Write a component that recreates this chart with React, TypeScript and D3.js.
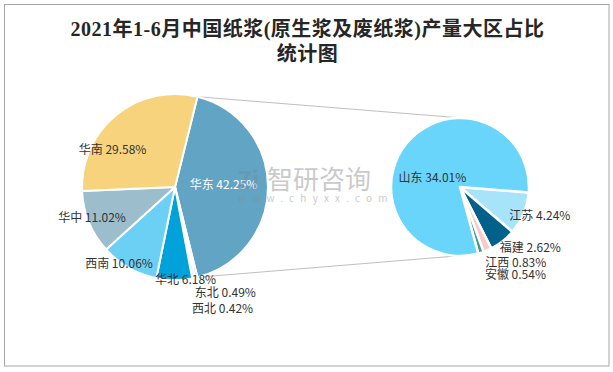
import { useMemo } from "react";
import * as d3 from "d3";

// main pie: regions (华东 is broken out into the second pie)
const regions = ["华东", "西北", "东北", "华北", "西南", "华中", "华南"];
const regionShare = [42.25, 0.42, 0.49, 6.18, 10.06, 11.02, 29.58];
const regionColors = ["#62A4C4", "#8FB4D0", "#D6E4EF", "#00A2D9", "#6CD0F5", "#9CBDCC", "#F6D37C"];

// second pie: provinces inside 华东
const provinces = ["江苏", "福建", "江西", "安徽", "山东"];
const provinceShare = [4.24, 2.62, 0.83, 0.54, 34.01];
const provinceColors = ["#A7E3F9", "#00628A", "#F8CACB", "#3F9B8F", "#6AD5FB"];

const titleLines = ["2021年1-6月中国纸浆(原生浆及废纸浆)产量大区占比", "统计图"];

const W = 613;
const H = 372;
const FONT = '"Noto Sans CJK SC", "Noto Sans", sans-serif';

// label nudges from each slice centroid
const regionLabelOffset: Record<string, [number, number]> = {
  华东: [2, -4],
  西北: [37, 75],
  东北: [41, 59],
  华北: [11, 45],
  西南: [-33, 35],
  华中: [-40, 12],
  华南: [-33, -3],
};
const provinceLabelOffset: Record<string, [number, number]> = {
  江苏: [48, 14],
  福建: [49, 32],
  江西: [42, 43],
  安徽: [45, 54],
  山东: [-1, 11],
};

const deg = (a: number) => (a * Math.PI) / 180;

export default function App() {
  const left = { cx: 175, cy: 187, r: 93 };
  const right = { cx: 460, cy: 187, r: 69 };

  const { leftArcs, rightArcs } = useMemo(() => {
    const total = d3.sum(regionShare);
    const eastSweep = (regionShare[0] / total) * 360;
    const start = deg(90 - eastSweep / 2);
    const leftArcs = d3
      .pie<number>()
      .sort(null)
      .value((d) => d)
      .startAngle(start)
      .endAngle(start + Math.PI * 2)(regionShare);
    const rs = deg(94.5);
    const rightArcs = d3
      .pie<number>()
      .sort(null)
      .value((d) => d)
      .startAngle(rs)
      .endAngle(rs + Math.PI * 2)(provinceShare);
    return { leftArcs, rightArcs };
  }, []);

  const arcL = d3.arc<d3.PieArcDatum<number>>().innerRadius(0).outerRadius(left.r);
  const arcR = d3.arc<d3.PieArcDatum<number>>().innerRadius(0).outerRadius(right.r);

  // connector lines from the edges of the 华东 slice to the second pie
  const east = leftArcs[0];
  const p0 = [left.cx + left.r * Math.sin(east.startAngle), left.cy - left.r * Math.cos(east.startAngle)];
  const p1 = [left.cx + left.r * Math.sin(east.endAngle), left.cy - left.r * Math.cos(east.endAngle)];
  const q0 = [right.cx + 2, right.cy - right.r];
  const q1 = [right.cx - 4, right.cy + right.r];

  return (
    <svg
      width={W}
      height={H}
      style={{ position: "absolute", left: 0, top: 0, background: "#fff" }}
    >
      <rect x={4.5} y={4.5} width={604.5} height={361.5} fill="#fff" stroke="#A6A6A6" strokeWidth={1} />

      {titleLines.map((t, i) => (
        <text
          key={t}
          x={307.5}
          y={29 + i * 25}
          textAnchor="middle"
          dominantBaseline="central"
          fontFamily={'"Liberation Serif", "Noto Sans CJK SC", serif'}
          fontSize={20}
          letterSpacing={0.5}
          fontWeight="bold"
          fill="#262626"
        >
          {t}
        </text>
      ))}

      <line x1={p0[0]} y1={p0[1]} x2={q0[0]} y2={q0[1]} stroke="#BFBFBF" strokeWidth={1} />
      <line x1={p1[0]} y1={p1[1]} x2={q1[0]} y2={q1[1]} stroke="#BFBFBF" strokeWidth={1} />

      <g transform={`translate(${left.cx},${left.cy})`}>
        {leftArcs.map((a, i) => (
          <path key={regions[i]} d={arcL(a) || ""} fill={regionColors[i]} stroke="#fff" strokeWidth={2} strokeLinejoin="round" />
        ))}
        {leftArcs.map((a, i) => {
          const [x, y] = arcL.centroid(a);
          const [dx, dy] = regionLabelOffset[regions[i]];
          return (
            <text
              key={"l" + regions[i]}
              x={x + dx}
              y={y + dy}
              textAnchor="middle"
              dominantBaseline="central"
              fontFamily={FONT}
              fontSize={12}
              fill={i === 0 ? "#fff" : "#333"}
            >
              {`${regions[i]} ${regionShare[i].toFixed(2)}%`}
            </text>
          );
        })}
      </g>

      <g transform={`translate(${right.cx},${right.cy})`}>
        {rightArcs.map((a, i) => (
          <path key={provinces[i]} d={arcR(a) || ""} fill={provinceColors[i]} stroke="#fff" strokeWidth={2.5} strokeLinejoin="round" />
        ))}
        {rightArcs.map((a, i) => {
          const [x, y] = arcR.centroid(a);
          const [dx, dy] = provinceLabelOffset[provinces[i]];
          return (
            <text
              key={"l" + provinces[i]}
              x={x + dx}
              y={y + dy}
              textAnchor="middle"
              dominantBaseline="central"
              fontFamily={FONT}
              fontSize={12}
              fill="#333"
            >
              {`${provinces[i]} ${provinceShare[i].toFixed(2)}%`}
            </text>
          );
        })}
      </g>

      {/* watermark */}
      <g opacity={0.45}>
        <text x={237} y={189} fontFamily={FONT} fontSize={24} fontWeight="bold" fill="#6F8AA3">
          Zi
        </text>
        <text x={267} y={189} fontFamily={FONT} fontSize={26} fill="#8C8C8C">
          智研咨询
        </text>
        <text x={238} y={202} fontFamily={FONT} fontSize={10} letterSpacing={6.2} fill="#8C8C8C">
          www.chyxx.com
        </text>
      </g>
    </svg>
  );
}
